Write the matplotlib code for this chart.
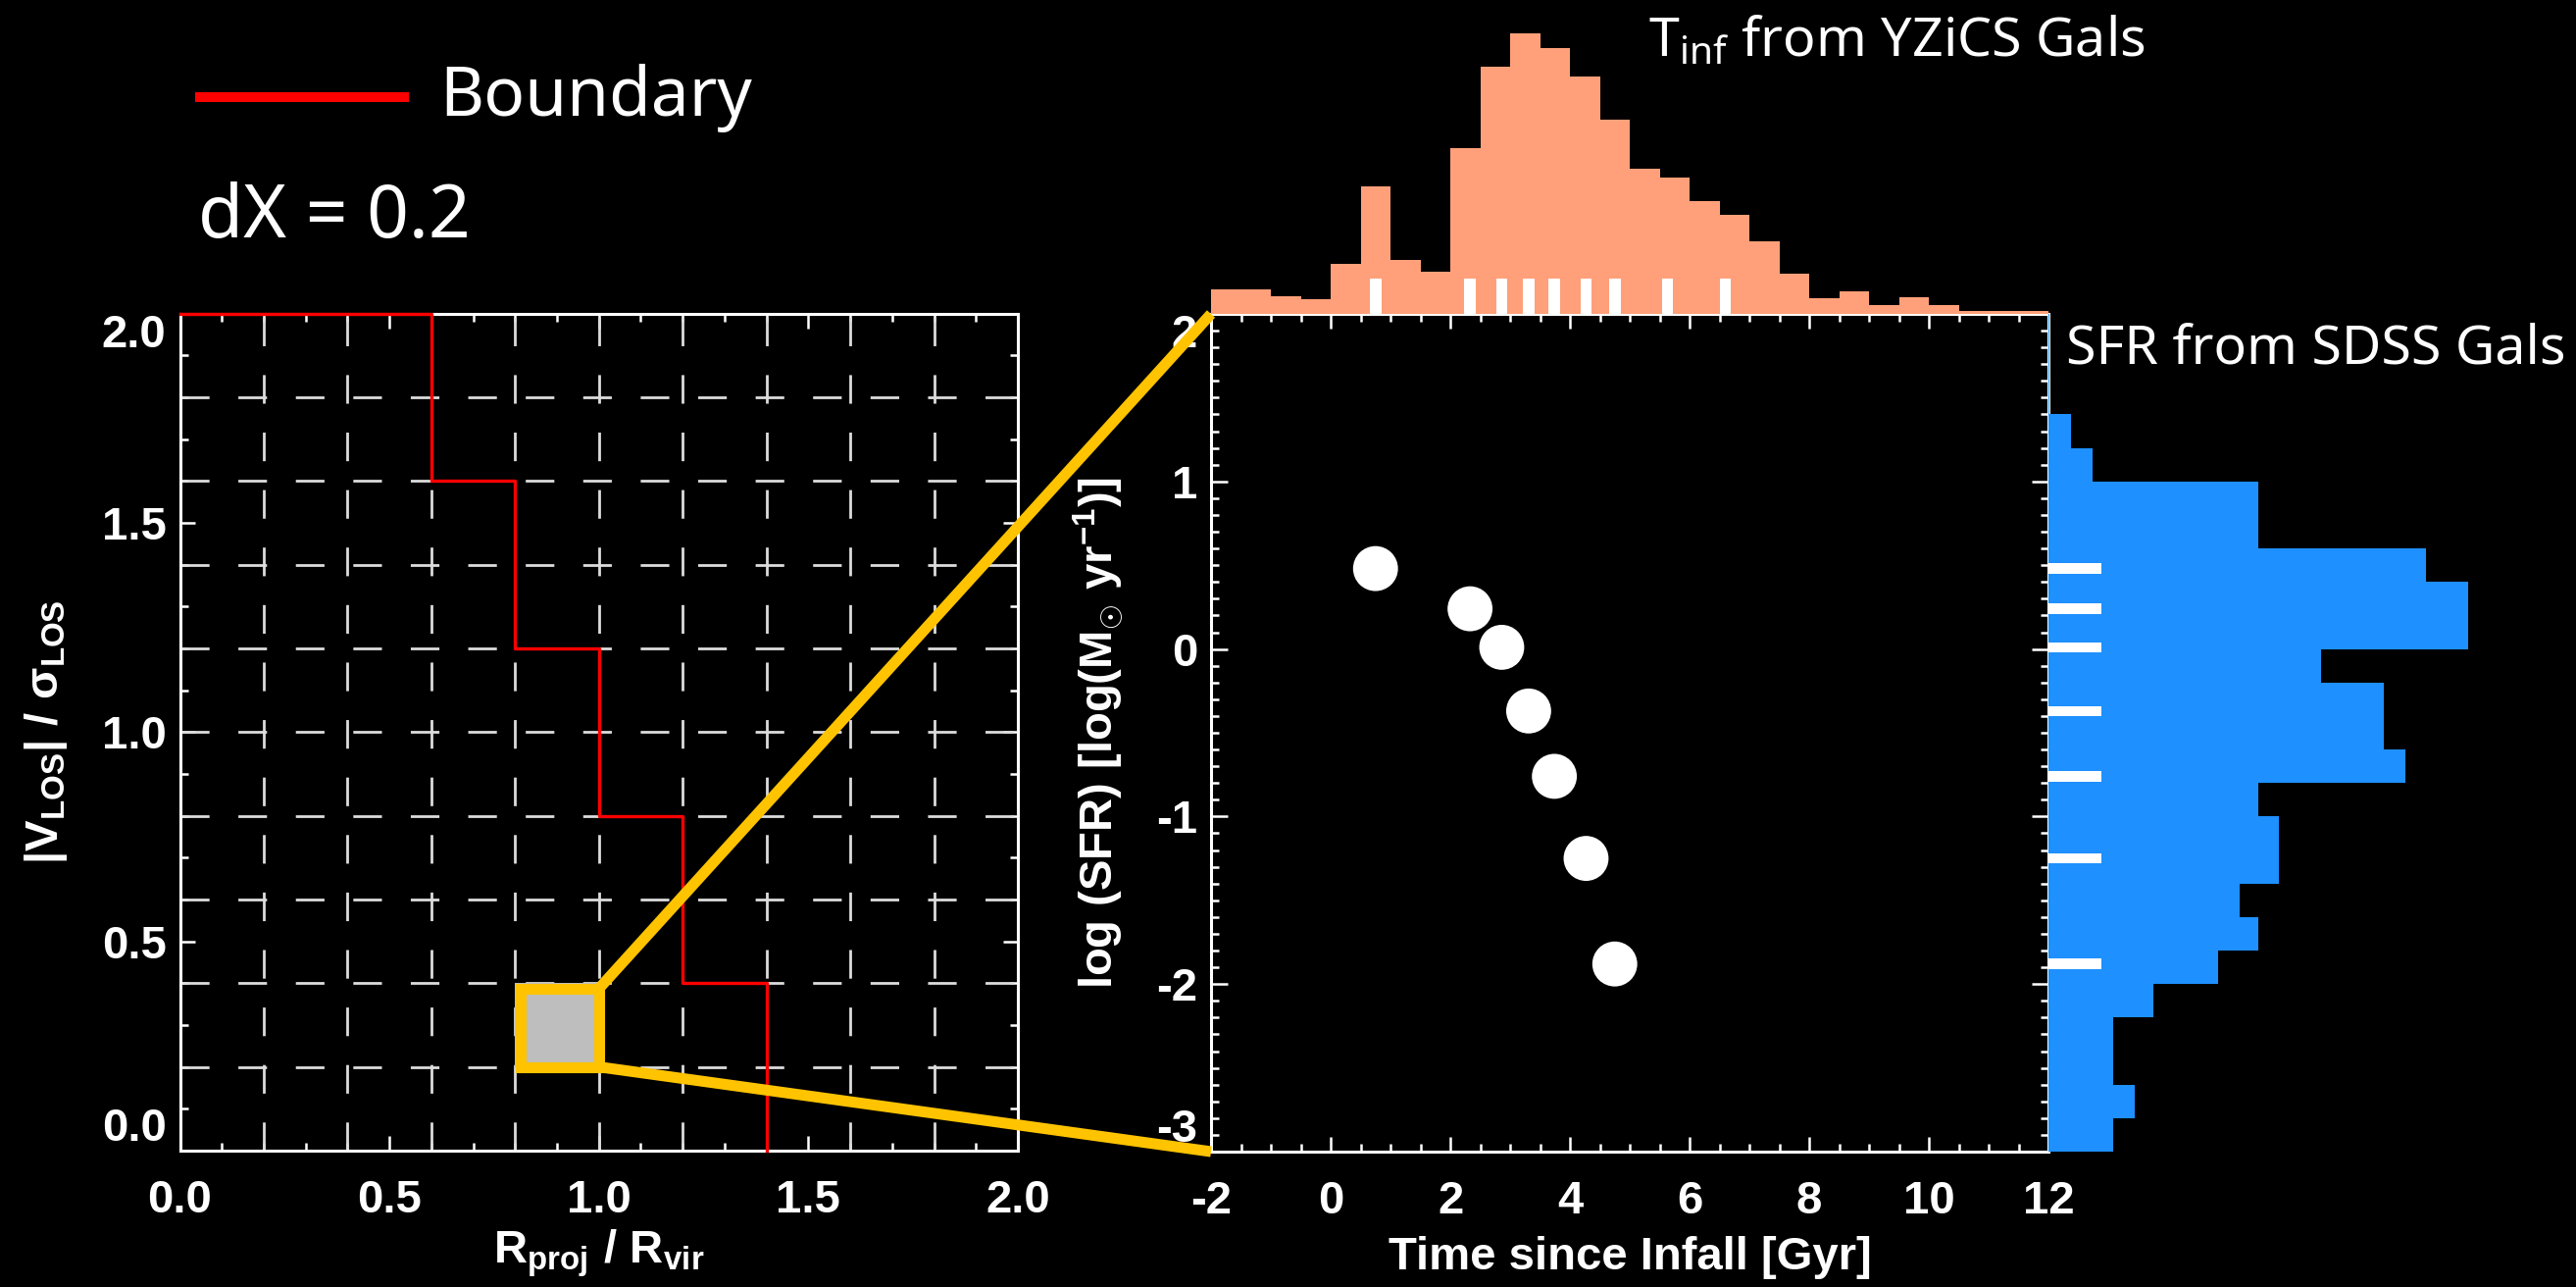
import numpy as np
import matplotlib
matplotlib.use("Agg")
import matplotlib.pyplot as plt
from matplotlib.patches import Rectangle, ConnectionPatch
from matplotlib.lines import Line2D
from matplotlib.ticker import MultipleLocator, FormatStrFormatter

# ---------------- data ----------------
boundary_x = [0.0, 0.6, 0.6, 0.8, 0.8, 1.0, 1.0, 1.2, 1.2, 1.4, 1.4]
boundary_y = [2.0, 2.0, 1.6, 1.6, 1.2, 1.2, 0.8, 0.8, 0.4, 0.4, 0.0]
selected_bin_x = [0.8, 1.0]
selected_bin_y = [0.2, 0.4]
grid_positions = [0.2, 0.4, 0.6, 0.8, 1.0, 1.2, 1.4, 1.6, 1.8]

t_infall = [0.75, 2.33, 2.86, 3.31, 3.74, 4.27, 4.75]
log_sfr = [0.48, 0.24, 0.01, -0.37, -0.76, -1.25, -1.88]

tinf_bin_edges = [-2.0, -1.5, -1.0, -0.5, 0.0, 0.5, 1.0, 1.5, 2.0, 2.5, 3.0, 3.5, 4.0, 4.5,
                  5.0, 5.5, 6.0, 6.5, 7.0, 7.5, 8.0, 8.5, 9.0, 9.5, 10.0, 10.5, 11.0, 11.5, 12.0]
tinf_counts = [8.6, 8.7, 6.3, 5.1, 18.0, 45.5, 19.4, 14.9, 59.0, 88.2, 100.0, 95.0, 84.8, 69.3,
               51.7, 48.6, 40.4, 35.2, 26.0, 14.2, 5.7, 8.2, 3.2, 6.1, 3.2, 1.0, 1.0, 1.0]
tinf_marks = [0.75, 2.33, 2.86, 3.31, 3.74, 4.27, 4.75, 5.63, 6.60]

sfr_bin_edges = [-3.0, -2.8, -2.6, -2.4, -2.2, -2.0, -1.8, -1.6, -1.4, -1.2, -1.0, -0.8, -0.6,
                 -0.4, -0.2, 0.0, 0.2, 0.4, 0.6, 0.8, 1.0, 1.2, 1.4]
sfr_counts = [3.1, 4.1, 3.1, 3.1, 5.0, 8.1, 10.0, 9.1, 11.0, 11.0, 10.0, 17.0, 16.0, 16.0,
              13.0, 20.0, 20.0, 18.0, 10.0, 10.0, 2.1, 1.07]
sfr_marks = log_sfr

left_ticks = [0.0, 0.5, 1.0, 1.5, 2.0]
mid_xticks = [-2, 0, 2, 4, 6, 8, 10, 12]
mid_yticks = [-3, -2, -1, 0, 1, 2]

# ---------------- style ----------------
plt.rcParams.update({
    "font.family": ["Liberation Sans", "DejaVu Sans"],
    "font.weight": "bold",
    "axes.labelweight": "bold",
    "axes.unicode_minus": False,
    "mathtext.fontset": "custom",
    "mathtext.rm": "Noto Sans",
    "mathtext.it": "Noto Sans:italic",
    "mathtext.bf": "Liberation Sans:bold",
    "lines.scale_dashes": False,
})

GOLD = "#FFC300"
SALMON = "#FFA07A"
BLUE = "#1E90FF"
W, H = 2627, 1312
fig = plt.figure(figsize=(W / 100, H / 100), dpi=100, facecolor="black")


def px_axes(x0, y0, x1, y1):
    return fig.add_axes([x0 / W, 1 - y1 / H, (x1 - x0) / W, (y1 - y0) / H])


ax_l = px_axes(183.5, 319.5, 1038, 1173)
ax_m = px_axes(1235, 320, 2089, 1174)
ax_t = px_axes(1235, 0, 2089, 320)
ax_r = px_axes(2089, 320, 2627, 1174)


def style_panel(ax):
    ax.set_facecolor("black")
    for s in ax.spines.values():
        s.set_color("white")
        s.set_linewidth(2.2)
    ax.tick_params(which="both", direction="in", top=True, right=True,
                   colors="white", width=1.8, labelsize=34)
    ax.tick_params(which="major", length=11)
    ax.tick_params(which="minor", length=5.5)
    ax.tick_params(axis="x", which="both", pad=21)
    ax.tick_params(axis="y", which="both", pad=10)


def tuck_end_labels(ax):
    ticks = ax.yaxis.get_major_ticks()
    ticks[0].label1.set_verticalalignment("bottom")
    ticks[-1].label1.set_verticalalignment("top")


# ---------------- left panel ----------------
style_panel(ax_l)
ax_l.set_xlim(0, 2)
ax_l.set_ylim(0, 2)
ax_l.set_xticks(left_ticks)
ax_l.set_yticks(left_ticks)
ax_l.xaxis.set_minor_locator(MultipleLocator(0.1))
ax_l.yaxis.set_minor_locator(MultipleLocator(0.1))
ax_l.xaxis.set_major_formatter(FormatStrFormatter("%.1f"))
ax_l.yaxis.set_major_formatter(FormatStrFormatter("%.1f"))
tuck_end_labels(ax_l)

for g in grid_positions:
    ax_l.plot([g, g], [0, 2], color="#DCDCDC", lw=2.0, dashes=[21, 21.2], zorder=2)
    ax_l.plot([0, 2], [g, g], color="#DCDCDC", lw=2.0, dashes=[21, 21.2], zorder=2)

ax_l.plot(boundary_x, boundary_y, color="red", lw=2.4, zorder=3, clip_on=False)

ax_l.add_patch(Rectangle((selected_bin_x[0], selected_bin_y[0]),
                         selected_bin_x[1] - selected_bin_x[0],
                         selected_bin_y[1] - selected_bin_y[0],
                         facecolor="#BEBEBE", edgecolor="none", zorder=4))
inset = 0.013
ax_l.add_patch(Rectangle((selected_bin_x[0] + inset, selected_bin_y[0]),
                         selected_bin_x[1] - selected_bin_x[0] - inset,
                         selected_bin_y[1] - selected_bin_y[0] - inset,
                         facecolor="none", edgecolor=GOLD, lw=8, joinstyle="miter",
                         zorder=5, clip_on=False))

ax_l.set_xlabel(r"$\mathbf{R_{proj}\ /\ R_{vir}}$", color="white", fontsize=34)
ax_l.set_ylabel(r"$\mathbf{|V_{LOS}|\ /\ \sigma_{LOS}}$", color="white", fontsize=34)
ax_l.xaxis.set_label_coords(0.5, -0.092)
ax_l.yaxis.set_label_coords(-0.132, 0.5)

# ---------------- middle panel ----------------
style_panel(ax_m)
ax_m.set_xlim(-2, 12)
ax_m.set_ylim(-3, 2)
ax_m.set_xticks(mid_xticks)
ax_m.set_yticks(mid_yticks)
ax_m.xaxis.set_minor_locator(MultipleLocator(0.5))
ax_m.yaxis.set_minor_locator(MultipleLocator(0.1))
ax_m.tick_params(axis="y", which="major", length=12)
tuck_end_labels(ax_m)
ax_m.scatter(t_infall, log_sfr, s=1090, c="white", edgecolors="none", zorder=5)
ax_m.set_xlabel("Time since Infall [Gyr]", color="white", fontsize=34, fontweight="bold")
ax_m.set_ylabel(r"$\mathbf{log\ (SFR)\ [log(M_{\odot}\ yr^{-1})]}$", color="white", fontsize=34)
ax_m.xaxis.set_label_coords(0.5, -0.101)
ax_m.yaxis.set_label_coords(-0.102, 0.5)

# ---------------- top histogram ----------------
ax_t.set_facecolor("none")
ax_t.axis("off")
ax_t.set_xlim(-2, 12)
ax_t.set_ylim(0, 112)
ax_t.bar(tinf_bin_edges[:-1], tinf_counts, width=np.diff(tinf_bin_edges), align="edge",
         color=SALMON, edgecolor="none")
ax_t.axhline(0, color=SALMON, lw=2)
ax_t.bar(tinf_marks, 12.6, width=0.19, color="white", edgecolor="none", zorder=3)

# ---------------- right histogram ----------------
ax_r.set_facecolor("none")
ax_r.axis("off")
ax_r.set_ylim(-3, 2)
ax_r.set_xlim(0, 25.14)
ax_r.barh(sfr_bin_edges[:-1], sfr_counts, height=np.diff(sfr_bin_edges), align="edge",
          color=BLUE, edgecolor="none")
ax_r.axvline(0, color=BLUE, lw=1.5)
ax_r.barh(sfr_marks, 2.5, height=0.062, color="white", edgecolor="none", zorder=3)

# ---------------- zoom connectors ----------------
for xyA, xyB in [((selected_bin_x[1], selected_bin_y[1] - inset), (-2, 2)),
                 ((selected_bin_x[1], selected_bin_y[0]), (-2, -3))]:
    con = ConnectionPatch(xyA=xyA, coordsA=ax_l.transData, xyB=xyB, coordsB=ax_m.transData,
                          color=GOLD, lw=8, zorder=20, capstyle="butt")
    fig.add_artist(con)

# ---------------- annotations ----------------
fig.add_artist(Line2D([204 / W, 412 / W], [1 - 99 / H, 1 - 99 / H], color="red", lw=7.2))
fig.text(448 / W, 1 - 118 / H, "Boundary", color="white", fontsize=50,
         family="Noto Sans", weight="normal", va="baseline")
fig.text(202 / W, 1 - 242 / H, "dX = 0.2", color="white", fontsize=54,
         family="Noto Sans", weight="normal", va="baseline")
fig.text(1681 / W, 1 - 57 / H, r"T$_{\mathrm{inf}}$ from YZiCS Gals", color="white",
         fontsize=40, family="Noto Sans", weight="normal", va="baseline")
fig.text(2107 / W, 1 - 371 / H, "SFR from SDSS Gals", color="white", fontsize=40,
         family="Noto Sans", weight="normal", va="baseline")

fig.savefig("out.png", dpi=100, facecolor="black")
